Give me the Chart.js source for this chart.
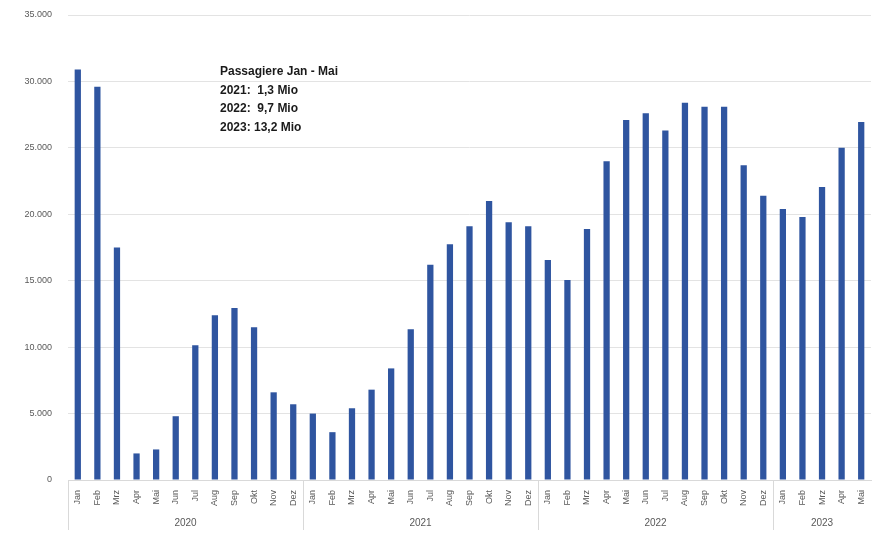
<!DOCTYPE html>
<html>
<head>
<meta charset="utf-8">
<script src="https://cdn.jsdelivr.net/npm/chart.js@4"></script>
<style>
  html, body { margin: 0; padding: 0; background: #fff; }
  #wrap { width: 874px; height: 534px; }
</style>
</head>
<body>
<div id="wrap"><canvas id="paxChart"></canvas></div>
<script>
// Monate je Jahr
const years  = ['2020', '2021', '2022', '2023'];
const months = ['Jan', 'Feb', 'Mrz', 'Apr', 'Mai', 'Jun', 'Jul', 'Aug', 'Sep', 'Okt', 'Nov', 'Dez'];
const monthsPerYear = [12, 12, 12, 5];

// Passagiere pro Monat
const pax2020 = [30900, 29600, 17500, 2000, 2300, 4800, 10150, 12400, 12950, 11500, 6600, 5700];
const pax2021 = [5000, 3600, 5400, 6800, 8400, 11350, 16200, 17750, 19100, 21000, 19400, 19100];
const pax2022 = [16550, 15050, 18900, 24000, 27100, 27600, 26300, 28400, 28100, 28100, 23700, 21400];
const pax2023 = [20400, 19800, 22050, 25000, 26950];

const yTicks = [0, 5000, 10000, 15000, 20000, 25000, 30000, 35000];

const noteLines = ['Passagiere Jan - Mai', '2021:  1,3 Mio', '2022:  9,7 Mio', '2023: 13,2 Mio'];

const labels = [];
monthsPerYear.forEach(n => { for (let i = 0; i < n; i++) labels.push(months[i]); });
const values = [].concat(pax2020, pax2021, pax2022, pax2023);

// Jahreszeile unter den Monaten + Trennstriche
const yearAxisPlugin = {
  id: 'yearAxis',
  afterDraw(chart) {
    const ctx = chart.ctx;
    const x = chart.scales.x;
    const area = chart.chartArea;
    const half = (x.getPixelForValue(1) - x.getPixelForValue(0)) / 2;
    ctx.save();
    ctx.strokeStyle = '#d9d9d9';
    ctx.lineWidth = 1;
    ctx.fillStyle = '#595959';
    ctx.font = '10px "Liberation Sans", Arial, sans-serif';
    ctx.textAlign = 'center';
    ctx.textBaseline = 'middle';
    let start = 0;
    monthsPerYear.forEach((n, gi) => {
      const x0 = x.getPixelForValue(start) - half;
      const x1 = x.getPixelForValue(start + n - 1) + half;
      const bx = Math.round(x0) + 0.5;
      ctx.beginPath();
      ctx.moveTo(bx, area.bottom);
      ctx.lineTo(bx, area.bottom + 50);
      ctx.stroke();
      ctx.fillText(years[gi], (x0 + x1) / 2, area.bottom + 43);
      start += n;
    });
    ctx.restore();
  }
};

// Textfeld mit Summen
const notePlugin = {
  id: 'note',
  afterDraw(chart) {
    const ctx = chart.ctx;
    const area = chart.chartArea;
    ctx.save();
    ctx.fillStyle = '#1a1a1a';
    ctx.textAlign = 'left';
    ctx.textBaseline = 'middle';
    ctx.font = 'bold 12px "Liberation Sans", Arial, sans-serif';
    noteLines.forEach((t, i) => {
      ctx.fillText(t, area.left + 152, area.top + 57 + i * 18.5);
    });
    ctx.restore();
  }
};

new Chart(document.getElementById('paxChart'), {
  type: 'bar',
  data: {
    labels,
    datasets: [{
      data: values,
      backgroundColor: '#2f55a0',
      barPercentage: 0.32,
      categoryPercentage: 1.0
    }]
  },
  options: {
    responsive: true,
    maintainAspectRatio: false,
    animation: false,
    layout: { padding: { top: 15, right: 3, left: 0, bottom: 0 } },
    plugins: {
      legend: { display: false },
      tooltip: { enabled: false }
    },
    scales: {
      x: {
        grid: { display: false },
        border: { color: '#d9d9d9' },
        ticks: {
          autoSkip: false,
          maxRotation: 90,
          minRotation: 90,
          color: '#595959',
          padding: 2,
          font: { size: 9, family: '"Liberation Sans", Arial, sans-serif' }
        },
        afterFit(s) { s.height = 54; s.paddingLeft = 0; s.paddingRight = 0; }
      },
      y: {
        min: 0,
        max: 35000,
        afterBuildTicks(s) { s.ticks = yTicks.map(v => ({ value: v })); },
        grid: { color: '#e3e3e3', drawTicks: false },
        border: { display: false },
        ticks: {
          color: '#595959',
          padding: 16,
          font: { size: 9, family: '"Liberation Sans", Arial, sans-serif' },
          callback: v => v.toLocaleString('de-DE')
        },
        afterFit(s) { s.width = 68; s.paddingTop = 0; s.paddingBottom = 0; }
      }
    }
  },
  plugins: [yearAxisPlugin, notePlugin]
});
</script>
</body>
</html>
